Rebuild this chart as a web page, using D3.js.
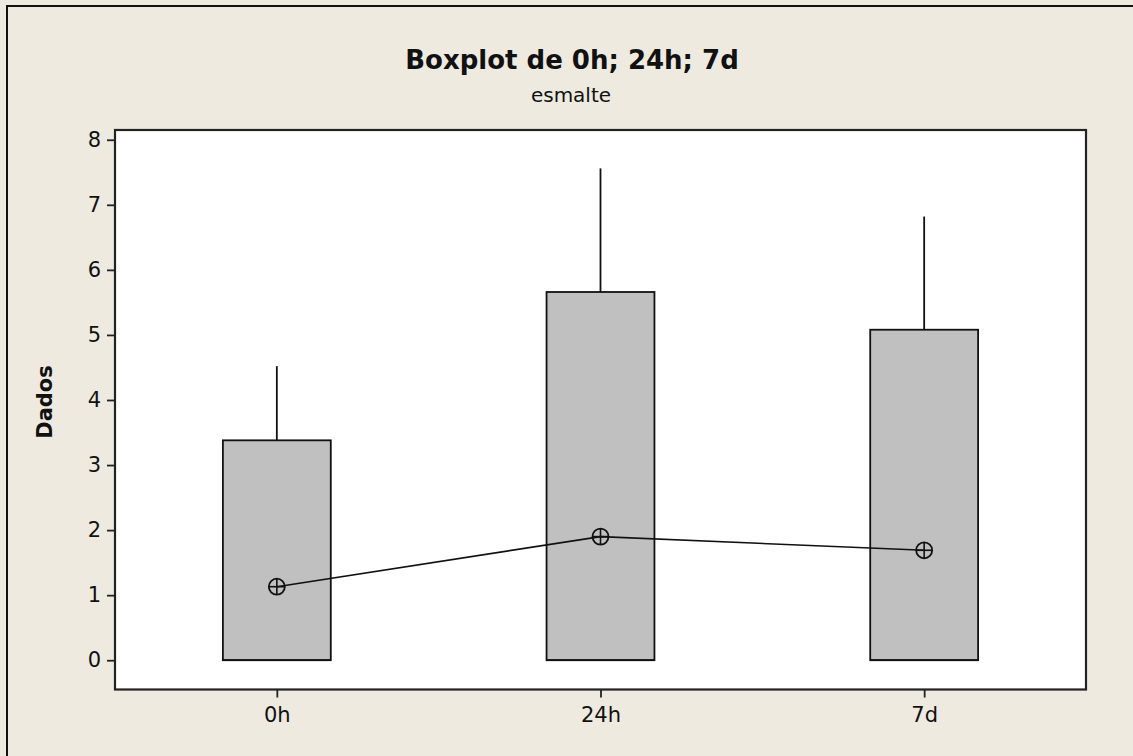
<!DOCTYPE html>
<html>
<head>
<meta charset="utf-8">
<script src="https://cdn.jsdelivr.net/npm/d3@7"></script>
<style>
  html, body { margin: 0; padding: 0; background: #EEEAE0; }
  svg { display: block; }
  text { font-family: "DejaVu Sans", Verdana, sans-serif; fill: #111; }
</style>
</head>
<body>
<svg id="chart" width="1133" height="756"></svg>
<script>
// Groups and five-number summaries of the boxes
const categories = ["0h", "24h", "7d"];
const whiskerLow = [0, 0, 0];
const q1 = [0, 0, 0];
const median = [0, 0, 0];
const q3 = [3.38, 5.66, 5.08];
const whiskerHigh = [4.52, 7.56, 6.82];
const means = [1.13, 1.90, 1.69];
const yTicks = [0, 1, 2, 3, 4, 5, 6, 7, 8];

const titleText = "Boxplot de 0h; 24h; 7d";
const subtitleText = "esmalte";
const yLabel = "Dados";

const W = 1133, H = 756;
const plot = { left: 115, top: 130, right: 1086, bottom: 689.5 };

const svg = d3.select("#chart");

// page background and outer frame
svg.append("rect").attr("x", 0).attr("y", 0).attr("width", W).attr("height", H).attr("fill", "#EEEAE0");
svg.append("rect").attr("x", 7).attr("y", 6).attr("width", W + 20).attr("height", H + 20)
  .attr("fill", "none").attr("stroke", "#111").attr("stroke-width", 2);

const x = d3.scalePoint().domain(categories).range([plot.left, plot.right]).padding(0.5);
const y = d3.scaleLinear().domain([-0.45, 8.15]).range([plot.bottom, plot.top]);
const boxW = x.step() / 3;

// plot area
svg.append("rect").attr("x", plot.left).attr("y", plot.top)
  .attr("width", plot.right - plot.left).attr("height", plot.bottom - plot.top)
  .attr("fill", "#fff");

const rows = categories.map((c, i) => ({
  c, lo: whiskerLow[i], q1: q1[i], med: median[i], q3: q3[i], hi: whiskerHigh[i], mean: means[i]
}));

const g = svg.append("g");

// whiskers
g.selectAll("line.whi").data(rows).join("line").attr("class", "whi")
  .attr("x1", d => x(d.c)).attr("x2", d => x(d.c))
  .attr("y1", d => y(d.q3)).attr("y2", d => y(d.hi))
  .attr("stroke", "#111").attr("stroke-width", 1.8);
g.selectAll("line.wlo").data(rows).join("line").attr("class", "wlo")
  .attr("x1", d => x(d.c)).attr("x2", d => x(d.c))
  .attr("y1", d => y(d.q1)).attr("y2", d => y(d.lo) - 3)
  .attr("stroke", "#111").attr("stroke-width", 1.2);

// boxes
g.selectAll("rect.box").data(rows).join("rect").attr("class", "box")
  .attr("x", d => x(d.c) - boxW / 2).attr("width", boxW)
  .attr("y", d => y(d.q3)).attr("height", d => y(d.q1) - y(d.q3))
  .attr("fill", "#C0C0C0").attr("stroke", "#111").attr("stroke-width", 1.8);

// medians
g.selectAll("line.med").data(rows).join("line").attr("class", "med")
  .attr("x1", d => x(d.c) - boxW / 2).attr("x2", d => x(d.c) + boxW / 2)
  .attr("y1", d => y(d.med)).attr("y2", d => y(d.med))
  .attr("stroke", "#111").attr("stroke-width", 1.8);

// connect-line of means
g.append("path").datum(rows)
  .attr("d", d3.line().x(d => x(d.c)).y(d => y(d.mean)))
  .attr("fill", "none").attr("stroke", "#111").attr("stroke-width", 1.6);

// mean symbols: circle with cross
const r = 8;
const sym = g.selectAll("g.mean").data(rows).join("g").attr("class", "mean")
  .attr("transform", d => `translate(${x(d.c)},${y(d.mean)})`);
sym.append("circle").attr("r", r).attr("fill", "none").attr("stroke", "#111").attr("stroke-width", 1.8);
sym.append("line").attr("x1", -r).attr("x2", r).attr("stroke", "#111").attr("stroke-width", 1.6);
sym.append("line").attr("y1", -r).attr("y2", r).attr("stroke", "#111").attr("stroke-width", 1.6);

// plot border
svg.append("rect").attr("x", plot.left).attr("y", plot.top)
  .attr("width", plot.right - plot.left).attr("height", plot.bottom - plot.top)
  .attr("fill", "none").attr("stroke", "#222").attr("stroke-width", 2.2);

// axes
const yAxis = d3.axisLeft(y).tickValues(yTicks).tickSize(8).tickPadding(6).tickFormat(d3.format("d"));
const ya = svg.append("g").attr("transform", `translate(${plot.left},0)`).call(yAxis);
ya.select(".domain").remove();
ya.selectAll(".tick line").attr("stroke", "#222").attr("stroke-width", 1.8);
ya.selectAll(".tick text").style("font-size", "21px").style("font-family", null).attr("fill", "#111");

const xAxis = d3.axisBottom(x).tickSize(8).tickPadding(10);
const xa = svg.append("g").attr("transform", `translate(0,${plot.bottom})`).call(xAxis);
xa.select(".domain").remove();
xa.selectAll(".tick line").attr("stroke", "#222").attr("stroke-width", 1.8);
xa.selectAll(".tick text").style("font-size", "21px").style("font-family", null).attr("fill", "#111");

// titles
svg.append("text").attr("x", 572).attr("y", 69).attr("text-anchor", "middle")
  .style("font-size", "26px").style("font-weight", "bold").text(titleText);
svg.append("text").attr("x", 571).attr("y", 102).attr("text-anchor", "middle")
  .style("font-size", "20px").text(subtitleText);
svg.append("text").attr("transform", "translate(52,402) rotate(-90)").attr("text-anchor", "middle")
  .style("font-size", "21px").style("font-weight", "bold").text(yLabel);
</script>
</body>
</html>
